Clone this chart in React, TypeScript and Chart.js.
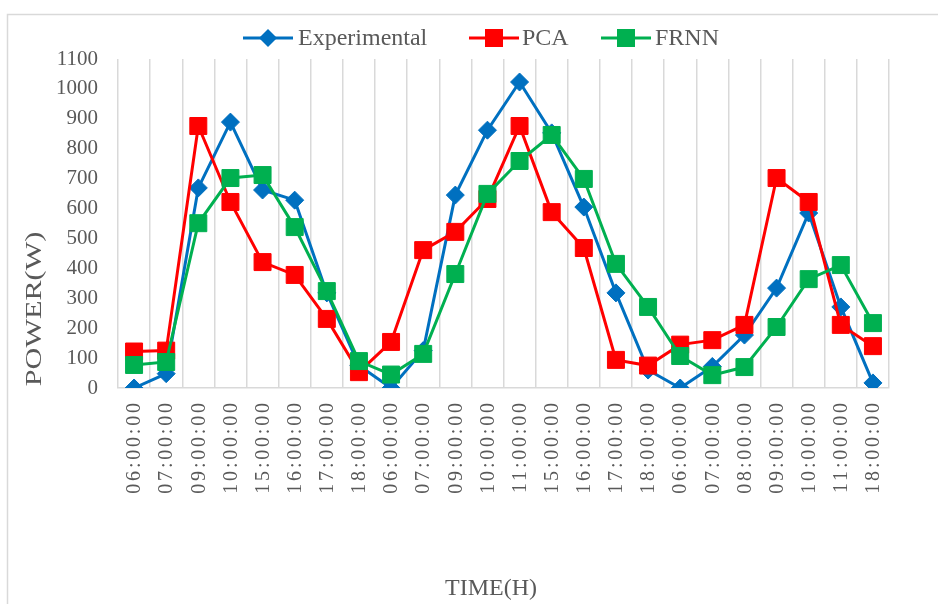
import React, { useEffect, useRef } from "react";
import { Chart, registerables } from "chart.js";

Chart.register(...registerables);

// Hour stamps along the x axis (three measurement days in sequence)
const timeLabels = [
  "06:00:00", "07:00:00", "09:00:00", "10:00:00", "15:00:00", "16:00:00", "17:00:00", "18:00:00",
  "06:00:00", "07:00:00", "09:00:00", "10:00:00", "11:00:00", "15:00:00", "16:00:00", "17:00:00", "18:00:00",
  "06:00:00", "07:00:00", "08:00:00", "09:00:00", "10:00:00", "11:00:00", "18:00:00",
];

// Power in watts
const experimental = [0, 48, 669, 889, 662, 628, 318, 75, 0, 125, 645, 862, 1023, 853, 605, 318, 60, 0, 72, 177, 334, 585, 271, 17];
const pca = [122, 125, 876, 622, 421, 378, 231, 53, 154, 461, 522, 632, 876, 588, 468, 94, 75, 145, 160, 211, 702, 622, 211, 140];
const frnn = [77, 87, 551, 702, 712, 538, 324, 90, 45, 114, 381, 649, 759, 846, 699, 415, 271, 107, 43, 70, 204, 364, 411, 217];

const yTicksMax = 1100;
const yStep = 100;

const seriesNames = ["Experimental", "PCA", "FRNN"];
const seriesColors = ["#0070C0", "#FF0000", "#00B050"];

const FONT = "'Liberation Serif', 'Times New Roman', serif";
const TEXT = "#595959";
const GRID = "#D9D9D9";

function drawMarker(ctx: CanvasRenderingContext2D, kind: string, x: number, y: number, color: string) {
  ctx.save();
  ctx.fillStyle = color;
  ctx.beginPath();
  if (kind === "diamond") {
    const r = 9;
    ctx.moveTo(x, y - r);
    ctx.lineTo(x + r, y);
    ctx.lineTo(x, y + r);
    ctx.lineTo(x - r, y);
    ctx.closePath();
  } else {
    const h = 9;
    ctx.rect(x - h, y - h, 2 * h, 2 * h);
  }
  ctx.fill();
  ctx.restore();
}

const decorations = {
  id: "decorations",
  beforeDraw(chart: any) {
    const ctx: CanvasRenderingContext2D = chart.ctx;
    ctx.save();
    ctx.fillStyle = "#ffffff";
    ctx.fillRect(0, 0, chart.width, chart.height);
    ctx.strokeStyle = GRID;
    ctx.lineWidth = 1.5;
    ctx.beginPath();
    ctx.moveTo(7.5, chart.height + 2);
    ctx.lineTo(7.5, 14.5);
    ctx.lineTo(chart.width + 2, 14.5);
    ctx.stroke();
    ctx.restore();
  },
  afterDraw(chart: any) {
    const ctx: any = chart.ctx;
    const xs = chart.scales.x;
    const area = chart.chartArea;

    // rotated category labels, spaced out like the axis text
    ctx.save();
    ctx.fillStyle = TEXT;
    ctx.font = `20px ${FONT}`;
    ctx.letterSpacing = "2.8px";
    ctx.textAlign = "left";
    ctx.textBaseline = "middle";
    timeLabels.forEach((lab: string, i: number) => {
      const x = xs.getPixelForTick(i);
      const w = ctx.measureText(lab).width - 2.8;
      ctx.save();
      ctx.translate(x + 1, area.bottom + 15 + w);
      ctx.rotate(-Math.PI / 2);
      ctx.fillText(lab, 0, 0);
      ctx.restore();
    });
    ctx.restore();

    // axis titles
    ctx.save();
    ctx.fillStyle = TEXT;
    ctx.font = `24px ${FONT}`;
    ctx.textAlign = "center";
    ctx.textBaseline = "middle";
    ctx.fillText("TIME(H)", 491, 589);
    ctx.translate(35, 309);
    ctx.rotate(-Math.PI / 2);
    ctx.scale(1.26, 1);
    ctx.fillText("POWER(W)", 0, 0);
    ctx.restore();

    // legend: line + marker + name
    const ly = 38;
    const symbolCenters = [268, 494, 626];
    const textStarts = [298, 522, 655];
    const kinds = ["diamond", "square", "square"];
    ctx.save();
    for (let i = 0; i < seriesNames.length; i++) {
      ctx.strokeStyle = seriesColors[i];
      ctx.lineWidth = 3;
      ctx.beginPath();
      ctx.moveTo(symbolCenters[i] - 25, ly);
      ctx.lineTo(symbolCenters[i] + 25, ly);
      ctx.stroke();
      drawMarker(ctx, kinds[i], symbolCenters[i], ly, seriesColors[i]);
      ctx.fillStyle = TEXT;
      ctx.font = `24px ${FONT}`;
      ctx.textAlign = "left";
      ctx.textBaseline = "middle";
      ctx.fillText(seriesNames[i], textStarts[i], ly + 1);
    }
    ctx.restore();
  },
};

export default function App() {
  const canvasRef = useRef<HTMLCanvasElement | null>(null);

  useEffect(() => {
    const canvas = canvasRef.current;
    if (!canvas) return;
    const makeSet = (label: string, data: number[], color: string, style: string, radius: number, order: number) => ({
      label,
      data,
      borderColor: color,
      backgroundColor: color,
      borderWidth: 3,
      pointStyle: style,
      pointRadius: radius,
      pointHoverRadius: radius,
      pointBackgroundColor: color,
      pointBorderColor: color,
      pointBorderWidth: 1,
      tension: 0,
      order,
    });
    const chart = new Chart(canvas, {
      type: "line",
      data: {
        labels: timeLabels,
        datasets: [
          makeSet(seriesNames[0], experimental, seriesColors[0], "rectRot", 9, 3),
          makeSet(seriesNames[1], pca, seriesColors[1], "rect", 12, 2),
          makeSet(seriesNames[2], frnn, seriesColors[2], "rect", 12, 1),
        ] as any,
      },
      options: {
        animation: false,
        responsive: false,
        devicePixelRatio: 1,
        layout: { padding: { top: 59, right: 49, left: 0, bottom: 0 } },
        plugins: {
          legend: { display: false },
          tooltip: { enabled: false },
          title: { display: false },
        },
        scales: {
          x: {
            type: "category",
            offset: true,
            grid: { display: true, offset: true, color: GRID, lineWidth: 1.5, drawTicks: false },
            border: { display: true, color: GRID, width: 1.5 },
            ticks: { display: false },
            afterFit: (s: any) => {
              s.height = 216;
            },
          },
          y: {
            min: 0,
            max: yTicksMax,
            grid: { display: false, drawTicks: false },
            border: { display: false },
            ticks: {
              stepSize: yStep,
              padding: 20,
              color: TEXT,
              font: { family: FONT, size: 21 },
              callback: (v: any) => String(v),
            },
            afterFit: (s: any) => {
              s.width = 118;
            },
          },
        },
      } as any,
      plugins: [decorations],
    });
    return () => chart.destroy();
  }, []);

  return (
    <div style={{ position: "fixed", left: 0, top: 0, width: 938, height: 604, background: "#fff" }}>
      <canvas ref={canvasRef} width={938} height={604} style={{ display: "block" }} />
    </div>
  );
}
